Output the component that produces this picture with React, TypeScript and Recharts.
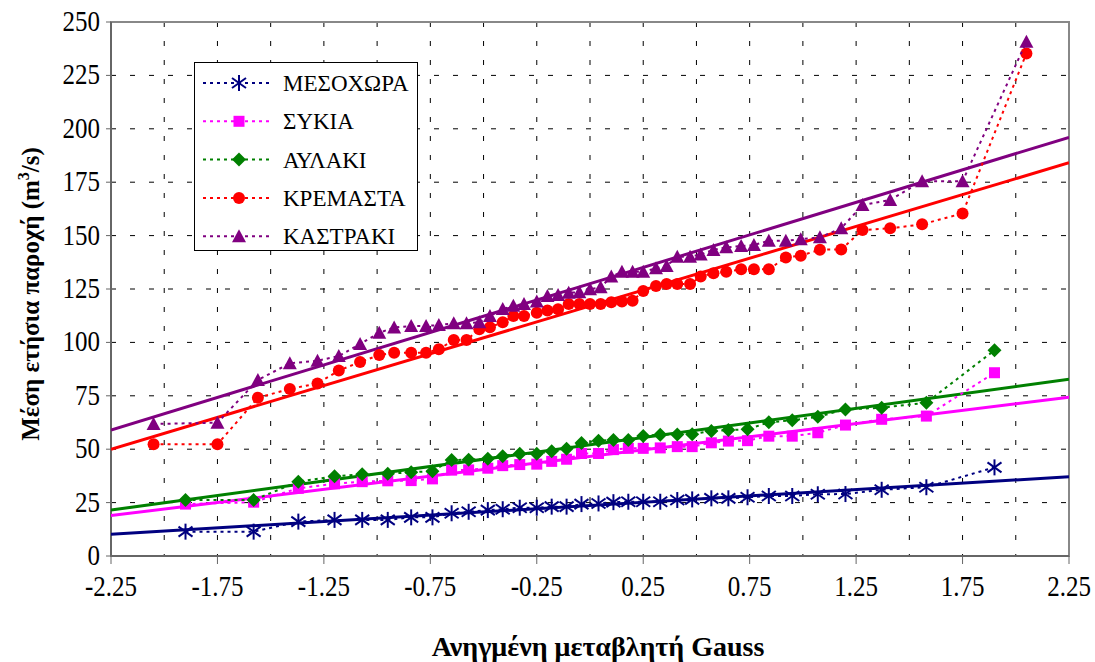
import React from 'react';
import { ScatterChart, Scatter, XAxis, YAxis, CartesianGrid, Legend, ReferenceArea } from 'recharts';

// reduced Gauss variable (positions)
const gaussLong = [
  -2.05, -1.75, -1.56, -1.41, -1.28, -1.18, -1.08, -0.99, -0.92, -0.84,
  -0.77, -0.71, -0.64, -0.58, -0.52, -0.47, -0.41, -0.36, -0.31, -0.25,
  -0.2, -0.15, -0.1, -0.05, 0, 0.05, 0.1, 0.15, 0.2, 0.25,
  0.31, 0.36, 0.41, 0.47, 0.52, 0.58, 0.64, 0.71, 0.77, 0.84,
  0.92, 0.99, 1.08, 1.18, 1.28, 1.41, 1.56, 1.75, 2.05,
];
const gaussShort = [
  -1.9, -1.58, -1.37, -1.2, -1.07, -0.95, -0.84, -0.74, -0.65, -0.57,
  -0.48, -0.41, -0.33, -0.25, -0.18, -0.11, -0.04, 0.04, 0.11, 0.18,
  0.25, 0.33, 0.41, 0.48, 0.57, 0.65, 0.74, 0.84, 0.95, 1.07,
  1.2, 1.37, 1.58, 1.9,
];

// mean annual discharge (m3/s)
const mesochora = [
  11.4, 11.4, 16.1, 16.9, 16.9, 16.9, 18.1, 18.1, 20.0, 20.7,
  21.5, 21.9, 22.6, 22.6, 23.1, 23.1, 24.3, 24.6, 25.2, 25.4,
  25.4, 25.4, 26.2, 26.5, 27.0, 27.0, 27.5, 28.1, 28.1, 28.9,
  29.0, 31.0, 32.2, 41.5,
];
const sykia = [
  24.3, 25.2, 31.7, 33.8, 34.8, 35.2, 35.3, 36.1, 40.2, 40.3,
  41.1, 42.3, 42.8, 43.0, 44.3, 45.3, 48.0, 48.0, 49.8, 50.4,
  50.4, 50.6, 51.2, 51.2, 53.0, 53.8, 54.0, 56.1, 56.1, 57.7,
  61.3, 64.0, 65.5, 85.8,
];
const aylaki = [
  26.2, 26.2, 34.8, 37.3, 38.3, 38.5, 39.2, 39.7, 44.9, 45.1,
  45.5, 46.7, 47.9, 47.9, 49.0, 50.2, 52.9, 54.0, 54.3, 54.3,
  56.2, 56.8, 56.9, 57.0, 58.5, 59.0, 59.3, 62.6, 63.5, 65.2,
  68.6, 69.4, 71.8, 96.3,
];
const kremasta = [
  52.3, 52.3, 74.1, 78.2, 80.8, 86.8, 90.8, 94.1, 95.2, 95.2,
  95.2, 96.8, 101.1, 101.1, 106.1, 107.1, 109.4, 112.4, 112.4, 113.9,
  114.9, 115.5, 118.0, 118.0, 118.0, 118.0, 118.8, 119.1, 119.5, 124.1,
  126.4, 127.3, 127.3, 127.3, 130.8, 132.4, 133.1, 134.2, 134.2, 134.2,
  139.8, 140.6, 143.4, 143.5, 152.6, 153.4, 155.3, 160.4, 235.3,
];
const kastraki = [
  61.8, 62.4, 82.4, 90.2, 91.4, 93.6, 99.3, 104.5, 107.0, 107.7,
  107.7, 108.1, 109.0, 109.0, 109.4, 112.4, 115.6, 117.2, 118.0, 119.1,
  121.7, 122.2, 123.3, 123.5, 124.9, 125.8, 130.8, 133.1, 133.1, 133.1,
  134.7, 135.8, 140.1, 140.1, 141.2, 143.3, 144.5, 145.1, 145.6, 147.6,
  147.6, 148.3, 149.2, 153.4, 164.3, 166.7, 175.4, 175.4, 240.8,
];

// linear trend lines, value at both ends of the axis
const trendEnds = [-2.25, 2.25];
const trendMesochora = [10.2, 37.1];
const trendSykia = [18.9, 74.3];
const trendAylaki = [21.5, 82.7];
const trendKremasta = [50.0, 184.1];
const trendKastraki = [59.0, 196.0];

const xTicks = [-2.25, -1.75, -1.25, -0.75, -0.25, 0.25, 0.75, 1.25, 1.75, 2.25];
const xGrid = [-2, -1.75, -1.5, -1.25, -1, -0.75, -0.5, -0.25, 0, 0.25, 0.5, 0.75, 1, 1.25, 1.5, 1.75, 2];
const yTicks = [0, 25, 50, 75, 100, 125, 150, 175, 200, 225, 250];

const FONT = "'Liberation Serif', 'DejaVu Serif', serif";
const serif = { fontFamily: FONT };

const pairs = (xs: number[], ys: number[]) => ys.map((y, i) => ({ x: xs[i], y }));

type Kind = 'star' | 'square' | 'diamond' | 'circle' | 'triangle';

function Marker({ kind, cx, cy, color }: { kind: Kind; cx: number; cy: number; color: string }) {
  if (kind === 'star') {
    return (
      <g stroke={color} strokeWidth={2}>
        <line x1={cx} y1={cy - 8} x2={cx} y2={cy + 8} />
        <line x1={cx - 7} y1={cy - 5} x2={cx + 7} y2={cy + 5} />
        <line x1={cx - 7} y1={cy + 5} x2={cx + 7} y2={cy - 5} />
      </g>
    );
  }
  if (kind === 'square') return <rect x={cx - 5.5} y={cy - 5.5} width={11} height={11} fill={color} />;
  if (kind === 'diamond')
    return <polygon points={`${cx},${cy - 7} ${cx + 7},${cy} ${cx},${cy + 7} ${cx - 7},${cy}`} fill={color} />;
  if (kind === 'circle') return <circle cx={cx} cy={cy} r={6} fill={color} />;
  return <polygon points={`${cx},${cy - 7} ${cx + 7},${cy + 6} ${cx - 7},${cy + 6}`} fill={color} />;
}

const series = [
  { name: 'ΜΕΣΟΧΩΡΑ', color: '#000080', kind: 'star' as Kind, data: pairs(gaussShort, mesochora), trend: pairs(trendEnds, trendMesochora) },
  { name: 'ΣΥΚΙΑ', color: '#FF00FF', kind: 'square' as Kind, data: pairs(gaussShort, sykia), trend: pairs(trendEnds, trendSykia) },
  { name: 'ΑΥΛΑΚΙ', color: '#008000', kind: 'diamond' as Kind, data: pairs(gaussShort, aylaki), trend: pairs(trendEnds, trendAylaki) },
  { name: 'ΚΡΕΜΑΣΤΑ', color: '#FF0000', kind: 'circle' as Kind, data: pairs(gaussLong, kremasta), trend: pairs(trendEnds, trendKremasta) },
  { name: 'ΚΑΣΤΡΑΚΙ', color: '#800080', kind: 'triangle' as Kind, data: pairs(gaussLong, kastraki), trend: pairs(trendEnds, trendKastraki) },
];

function LegendBox() {
  return (
    <div style={{ width: 224, height: 189, border: '1px solid #000', background: '#fff', boxSizing: 'border-box' }}>
      <svg width={222} height={187}>
        {series.map((s, i) => {
          const y = 20 + i * 38.3;
          return (
            <g key={s.name}>
              <line x1={8} x2={78} y1={y} y2={y} stroke={s.color} strokeWidth={2} strokeDasharray="3 4" />
              <Marker kind={s.kind} cx={44} cy={y} color={s.color} />
              <text x={88} y={y + 8} fontSize={23} style={serif} fill="#000">
                {s.name}
              </text>
            </g>
          );
        })}
      </svg>
    </div>
  );
}

// serif tick labels, a little taller than wide like the original
function XTick(props: any) {
  const { x, y, payload } = props;
  return (
    <text transform={`translate(${x},${y + 20}) scale(1,1.15)`} textAnchor="middle" fontSize={25} style={serif} fill="#000">
      {Number(payload.value).toFixed(2)}
    </text>
  );
}

function YTick(props: any) {
  const { x, y, payload } = props;
  return (
    <text transform={`translate(${x},${y + 9}) scale(1,1.15)`} textAnchor="end" fontSize={25} style={serif} fill="#000">
      {payload.value}
    </text>
  );
}

export default function App() {
  return (
    <div style={{ position: 'absolute', left: 0, top: 0, fontFamily: FONT, background: '#fff' }}>
      <ScatterChart width={1095} height={662} margin={{ top: 22, right: 26, left: 0, bottom: 0 }}>
        <CartesianGrid stroke="#000" strokeDasharray="5 14" verticalValues={xGrid} />
        <XAxis
          type="number"
          dataKey="x"
          domain={[-2.25, 2.25]}
          ticks={xTicks}
          allowDataOverflow
          height={106}
          axisLine={{ stroke: '#666', strokeWidth: 2 }}
          tickLine={{ stroke: '#666' }}
          tickSize={8}
          tickMargin={12}
          tick={<XTick />}
          label={(p: any) => {
            const vb = p.viewBox;
            return (
              <text x={vb.x + vb.width / 2 + 8} y={vb.y + 100} textAnchor="middle" fontSize={28} fontWeight="bold" fill="#000" style={serif}>
                Ανηγμένη μεταβλητή Gauss
              </text>
            );
          }}
        />
        <YAxis
          type="number"
          dataKey="y"
          domain={[0, 250]}
          ticks={yTicks}
          allowDataOverflow
          width={111}
          axisLine={{ stroke: '#666', strokeWidth: 2 }}
          tickLine={{ stroke: '#666' }}
          tickSize={5}
          tickMargin={6}
          tick={<YTick />}
          label={(p: any) => {
            const vb = p.viewBox;
            const cy = vb.y + vb.height / 2 + 5;
            return (
              <text transform={`translate(39,${cy}) rotate(-90)`} textAnchor="middle" fontSize={25} fontWeight="bold" fill="#000" style={serif}>
                Μέση ετήσια παροχή (m<tspan dy={-10} fontSize={16}>3</tspan><tspan dy={10}>/s)</tspan>
              </text>
            );
          }}
        />
        <ReferenceArea x1={-2.25} x2={2.25} y1={0} y2={250} fill="none" fillOpacity={0} stroke="#888" strokeWidth={2} />
        {series.map((s) => (
          <Scatter
            key={s.name + '-trend'}
            name={s.name + ' trend'}
            data={s.trend}
            fill={s.color}
            legendType="none"
            line={{ stroke: s.color, strokeWidth: 3 }}
            shape={() => <g />}
            isAnimationActive={false}
          />
        ))}
        {series.map((s) => (
          <Scatter
            key={s.name}
            name={s.name}
            data={s.data}
            fill={s.color}
            line={{ stroke: s.color, strokeWidth: 2, strokeDasharray: '3 4' }}
            shape={(p: any) => <Marker kind={s.kind} cx={p.cx} cy={p.cy} color={s.color} />}
            isAnimationActive={false}
          />
        ))}
        <Legend
          layout="vertical"
          align="center"
          verticalAlign="middle"
          wrapperStyle={{ left: 194, top: 62, width: 224, height: 189 }}
          content={() => <LegendBox />}
        />
      </ScatterChart>
    </div>
  );
}
